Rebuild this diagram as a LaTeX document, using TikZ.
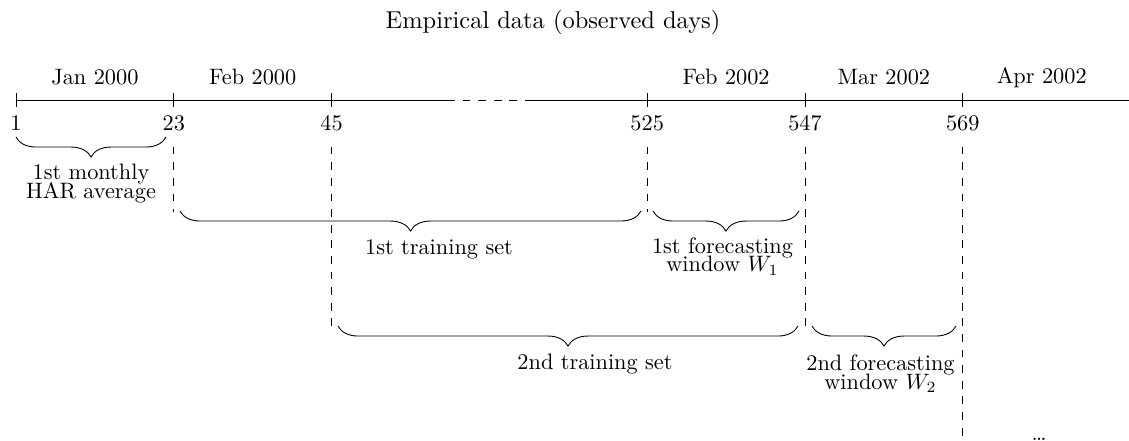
\documentclass[tikz,border=0pt]{standalone}
\usetikzlibrary{decorations.pathreplacing}
\begin{document}
\begin{tikzpicture}[x=0.4484pt,y=-0.4484pt,
  axisline/.style={draw, line width=0.4pt},
  guide/.style={draw, dash pattern=on 3.5pt off 3.5pt},
  brc/.style={draw, decorate, decoration={brace, mirror, amplitude=9pt}},
  month/.style={anchor=center, inner sep=0pt},
  num/.style={anchor=base, inner sep=0pt},
  lbl/.style={align=center, inner sep=0pt, anchor=base}]
\useasboundingbox (0,0) rectangle (1129,441);
% title
\node[anchor=base, inner sep=0pt, font=\fontsize{10.95}{13.6}\selectfont] (title) at (553,29) {Empirical data (observed days)};
% axis points
\coordinate (p1) at (16,100);
\coordinate (p23) at (173.8,100);
\coordinate (p45) at (331.6,100);
\coordinate (p525) at (647.2,100);
\coordinate (p547) at (805,100);
\coordinate (p569) at (962.8,100);
\coordinate (gapL) at (447,100);
\coordinate (gapR) at (526,100);
\coordinate (axEnd) at (1129,100);
\draw[axisline] (p1) -- (gapL);
\draw[axisline, dash pattern=on 3.5pt off 3.5pt] (gapL) -- (gapR);
\draw[axisline] (gapR) -- (axEnd);
\foreach \p in {p1,p23,p45,p525,p547,p569}
  \draw (\p) ++(0,-7) -- ++(0,14);
% month labels
\node[month] (jan) at (94.9,77.5) {Jan 2000};
\node[month] (feb0) at (252.7,77.5) {Feb 2000};
\node[month] (feb2) at (726.1,77.5) {Feb 2002};
\node[month] (mar2) at (883.9,77.5) {Mar 2002};
\node[month] (apr2) at (1041.7,77.5) {Apr 2002};
% day numbers
\node[num] (n1) at (16,131) {1};
\node[num] (n23) at (173.8,131) {23};
\node[num] (n45) at (331.6,131) {45};
\node[num] (n525) at (647.2,131) {525};
\node[num] (n547) at (805,131) {547};
\node[num] (n569) at (962.8,131) {569};
% dashed guides
\draw[guide] (p23) ++(0,46.7) -- ++(0,65.3);
\draw[guide] (p45) ++(0,46.7) -- ++(0,180.3);
\draw[guide] (p525) ++(0,46.7) -- ++(0,65.3);
\draw[guide] (p547) ++(0,46.7) -- ++(0,180.3);
\draw[guide] (p569) ++(0,46.7) -- ++(0,300);
% braces
\coordinate (b1s) at (16,137);   \coordinate (b1e) at (166,137);
\coordinate (b2s) at (180,211);  \coordinate (b2e) at (641,211);
\coordinate (b3s) at (653,211);  \coordinate (b3e) at (799,211);
\coordinate (b4s) at (338,326);  \coordinate (b4e) at (798,326);
\coordinate (b5s) at (812,326);  \coordinate (b5e) at (956,326);
\draw[brc] (b1s) -- (b1e);
\draw[brc] (b2s) -- (b2e);
\draw[brc] (b3s) -- (b3e);
\draw[brc] (b4s) -- (b4e);
\draw[brc] (b5s) -- (b5e);
% labels (multi-line nodes: base = baseline of the last line)
\node[lbl] (l1) at (91,198.5) {1st monthly\\[-3.5pt]HAR average};
\node[lbl] (l2) at (439,255) {1st training set};
\node[lbl] (l3) at (722.5,272) {1st forecasting\\[-3.5pt]window $W_1$};
\node[lbl] (l4) at (595,370) {2nd training set};
\node[lbl] (l5) at (880.5,389.5) {2nd forecasting\\[-3.5pt]window $W_2$};
\node[anchor=base, inner sep=0pt] (dots) at (1039,441) {\dots};
\end{tikzpicture}
\end{document}
